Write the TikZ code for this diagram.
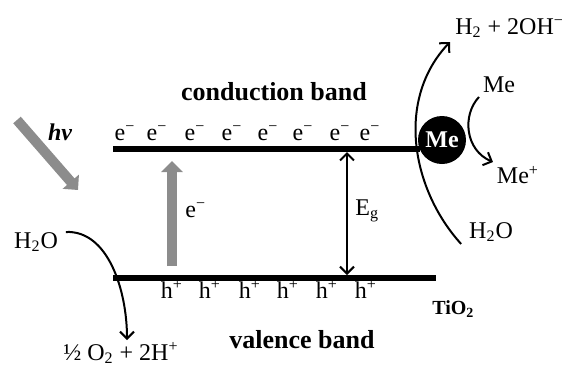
\documentclass[tikz,border=0pt]{standalone}
\usepackage{fontspec}
\setmainfont{Liberation Serif}
\usetikzlibrary{arrows.meta}

\begin{document}
\begin{tikzpicture}[x=0.5pt, y=-0.5pt,
    lbl/.style={font=\fontsize{12}{14}\selectfont, inner sep=0pt},
    title/.style={font=\fontsize{13}{15}\selectfont\bfseries, inner sep=0pt},
    band/.style={line width=3pt},
    arr/.style={line width=1pt, -{Straight Barb[length=3.5pt,width=7pt]}},
    light/.style={draw=gray!90, line width=5pt, -{Triangle[width=10.5pt,length=5.5pt]}}]
    \useasboundingbox (0,0) rectangle (564,365);

    % bands
    \coordinate (cbL) at (113,149);
    \coordinate (cbR) at (420,149);
    \coordinate (vbL) at (113,278);
    \coordinate (vbR) at (436,278);
    \draw[band] (cbL) -- (cbR);
    \draw[band] (vbL) -- (vbR);
    \node[circle, fill=black, minimum size=24pt, inner sep=0pt, text=white, font=\fontsize{12}{14}\selectfont\bfseries] (me) at (442,140) {Me};

    \node[title] (cbText) at (274,92) {conduction band};
    \node[title] (vbText) at (302,340) {valence band};
    \node[lbl, font=\fontsize{10}{12}\selectfont\bfseries, anchor=west] (tio) at (432,309) {TiO\textsubscript{2}};

    \foreach \x [count=\i] in {125,157,195,232,268,303,340,370}
        \node[lbl, anchor=base] (e\i) at (\x,140) {e\textsuperscript{−}};
    \foreach \x [count=\i] in {172,210,250,288,327,366}
        \node[lbl, anchor=base] (h\i) at (\x,298) {h\textsuperscript{+}};

    % light and excitation
    \coordinate (hvA) at (17,120);
    \coordinate (hvB) at (78,190);
    \draw[light] (hvA) -- (hvB);
    \node[lbl, font=\fontsize{12}{14}\selectfont\bfseries\itshape] (hv) at (60,132) {hv};
    \coordinate (exA) at (172,266);
    \coordinate (exB) at (172,161);
    \draw[light] (exA) -- (exB);
    \node[lbl, anchor=base west] (ex) at (185,217) {e\textsuperscript{−}};

    % band gap
    \coordinate (egA) at (347,152);
    \coordinate (egB) at (347,275);
    \draw[line width=1pt, {Straight Barb[length=3.5pt,width=7pt]}-{Straight Barb[length=3.5pt,width=7pt]}] (egA) -- (egB);
    \node[lbl, anchor=west] (eg) at (355,211) {E\textsubscript{g}};

    % oxidation
    \node[lbl, outer sep=4pt] (h2oL) at (36,242) {H\textsubscript{2}O};
    \node[lbl, anchor=base west] (oxy) at (63,360) {½ O\textsubscript{2} + 2H\textsuperscript{+}};
    \coordinate (oxyIn) at (127,340);
    \draw[arr] ([yshift=5]h2oL.east) .. controls +(42,-2) and +(0,-50) .. (oxyIn);

    % reduction
    \node[lbl, outer sep=4pt] (h2oR) at (491,232) {H\textsubscript{2}O};
    \node[lbl, anchor=west] (hyd) at (455,28) {H\textsubscript{2} + 2OH\textsuperscript{−}};
    \coordinate (hydIn) at (450,42);
    \draw[arr] ([yshift=-6]h2oR.west) .. controls (412,190) and (395,100) .. (hydIn);
    \node[lbl, outer sep=2pt] (meA) at (499,85) {Me};
    \node[lbl, outer sep=2pt] (meB) at (518,175) {Me\textsuperscript{+}};
    \draw[arr] (meA.south west) .. controls (462,115) and (465,150) .. (meB.north west);

\end{tikzpicture}
\end{document}
